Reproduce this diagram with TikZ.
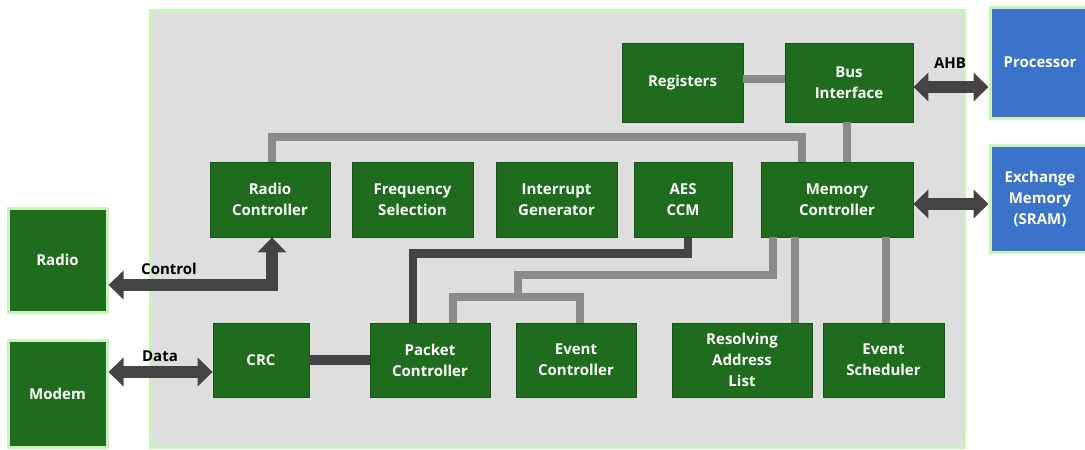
\documentclass[tikz,border=0pt]{standalone}
\usepackage{fontspec}
\setmainfont{Open Sans}
\usetikzlibrary{arrows.meta,calc}

\definecolor{boxgreen}{RGB}{31,108,31}
\definecolor{boxedge}{RGB}{22,84,22}
\definecolor{glow}{RGB}{200,243,186}
\definecolor{panel}{RGB}{222,222,222}
\definecolor{busgray}{RGB}{138,138,138}
\definecolor{darkbus}{RGB}{68,68,68}
\definecolor{hostblue}{RGB}{58,115,201}

\tikzset{
  block/.style={rectangle, fill=boxgreen, draw=boxedge, line width=0.8pt,
    text=white, align=center, inner sep=0pt,
    font=\fontsize{15}{21}\selectfont\bfseries},
  extblock/.style={block, draw=glow, line width=3pt},
  hostblock/.style={extblock, fill=hostblue},
  gbus/.style={draw=busgray, line width=8pt, line join=miter},
  dbus/.style={draw=darkbus, line width=8.5pt, line join=miter},
  bigarrow/.style={draw=darkbus, line width=12pt, line join=miter,
    {Triangle[width=28pt,length=15pt]}-{Triangle[width=28pt,length=15pt]}},
  tag/.style={text=black, inner sep=0pt, font=\fontsize{15}{18}\selectfont\bfseries}
}

\begin{document}
\begin{tikzpicture}[x=1pt,y=-1pt]
\useasboundingbox (0,0) rectangle (1085,450);

% controller panel
\path[fill=panel, draw=glow, line width=3pt] (150,10) rectangle (964,447);

% outside blocks
\node[extblock, minimum width=99pt, minimum height=104pt] (radio) at (57.5,260) {Radio};
\node[extblock, minimum width=99pt, minimum height=107pt] (modem) at (57.5,393.5) {Modem};
\node[hostblock, minimum width=100pt, minimum height=111pt] (proc) at (1040,62.5) {Processor};
\node[hostblock, minimum width=100pt, minimum height=107pt] (xmem) at (1040,198.5) {Exchange\\Memory\\(SRAM)};

% top row
\node[block, minimum width=121pt, minimum height=79pt] (regs) at (682.5,82.5) {Registers};
\node[block, minimum width=128pt, minimum height=79pt] (bus) at (849,82.5) {Bus\\Interface};

% middle row
\node[block, minimum width=120pt, minimum height=75pt] (radioc) at (270,199.5) {Radio\\Controller};
\node[block, minimum width=121pt, minimum height=75pt] (freq) at (412.5,199.5) {Frequency\\Selection};
\node[block, minimum width=121pt, minimum height=75pt] (intr) at (556.5,199.5) {Interrupt\\Generator};
\node[block, minimum width=98pt, minimum height=75pt] (aes) at (683,199.5) {AES\\CCM};
\node[block, minimum width=152pt, minimum height=75pt] (memc) at (837,199.5) {Memory\\Controller};

% bottom row
\node[block, minimum width=96pt, minimum height=74pt] (crc) at (261,360) {CRC};
\node[block, minimum width=120pt, minimum height=74pt] (pkt) at (430,360) {Packet\\Controller};
\node[block, minimum width=120pt, minimum height=74pt] (evc) at (576,360) {Event\\Controller};
\node[block, minimum width=140pt, minimum height=74pt] (ral) at (742,360) {Resolving\\Address\\List};
\node[block, minimum width=121pt, minimum height=74pt] (evs) at (883.5,360) {Event\\Scheduler};

% internal gray buses
\draw[gbus] ([yshift=3.5pt]regs.east) -- ([yshift=3.5pt]bus.west);
\draw[gbus] ([xshift=-2pt]bus.south) -- ([xshift=-2pt]bus.south |- memc.north);
\draw[gbus] ([xshift=2pt]radioc.north) |- ([xshift=-35pt,yshift=25pt]memc.north)
  -- ([xshift=-35pt]memc.north);
\draw[gbus] ([xshift=-42pt]memc.south) -- ([xshift=-42pt]memc.south |- ral.north);
\draw[gbus] ([xshift=49pt]memc.south) -- ([xshift=49pt]memc.south |- evs.north);
\coordinate (fork) at (518,297);
\draw[gbus] ([xshift=-64pt]memc.south) |- ([yshift=22pt]fork) -- (fork);
\draw[gbus] ([xshift=23pt]pkt.north) |- (fork) -| ([xshift=4pt]evc.north);

% dark data paths
\draw[dbus] ([xshift=5pt]aes.south) -- ++(0,-16pt) -| ([xshift=-17pt]pkt.north);
\draw[draw=darkbus, line width=10pt] (crc.east) -- (pkt.west);

% external interfaces
\draw[bigarrow] ([yshift=-4.5pt]bus.east) -- ([yshift=-4.5pt]bus.east -| proc.west);
\draw[bigarrow] ([yshift=-4.5pt]memc.east) -- ([yshift=-4.5pt]memc.east -| xmem.west);
\draw[bigarrow] ([yshift=-25pt]radio.east) -| ([xshift=2pt]radioc.south);
\draw[bigarrow] ([yshift=21.5pt]modem.east) -- ([yshift=21.5pt]modem.east -| crc.west);

% interface labels
\node[tag] (ahb) at (950,63) {AHB};
\node[tag] (ctl) at (169,269) {Control};
\node[tag] (dat) at (160,356) {Data};
\end{tikzpicture}
\end{document}
